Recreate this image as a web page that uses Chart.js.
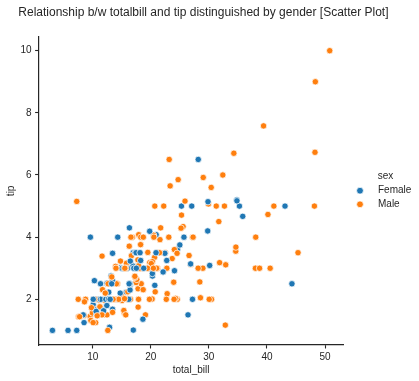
<!DOCTYPE html>
<html><head><meta charset="utf-8">
<script src="https://cdn.jsdelivr.net/npm/chart.js@4/dist/chart.umd.min.js"></script>
<style>html,body{margin:0;padding:0;background:#fff}#wrap{position:relative;width:419px;height:381px}</style>
</head><body><div id="wrap"><canvas id="c" width="419" height="381"></canvas></div>
<script>
const totalBill = [
16.99,10.34,21.01,23.68,24.59,25.29,8.77,26.88,15.04,14.78,
10.27,35.26,15.42,18.43,14.83,21.58,10.33,16.29,16.97,20.65,
17.92,20.29,15.77,39.42,19.82,17.81,13.37,12.69,21.7,19.65,
9.55,18.35,15.06,20.69,17.78,24.06,16.31,16.93,18.69,31.27,
16.04,17.46,13.94,9.68,30.4,18.29,22.23,32.4,28.55,18.04,
12.54,10.29,34.81,9.94,25.56,19.49,38.01,26.41,11.24,48.27,
20.29,13.81,11.02,18.29,17.59,20.08,16.45,3.07,20.23,15.01,
12.02,17.07,26.86,25.28,14.73,10.51,17.92,27.2,22.76,17.29,
19.44,16.66,10.07,32.68,15.98,34.83,13.03,18.28,24.71,21.16,
28.97,22.49,5.75,16.32,22.75,40.17,27.28,12.03,21.01,12.46,
11.35,15.38,44.3,22.42,20.92,15.36,20.49,25.21,18.24,14.31,
14.0,7.25,38.07,23.95,25.71,17.31,29.93,10.65,12.43,24.08,
11.69,13.42,14.26,15.95,12.48,29.8,8.52,14.52,11.38,22.82,
19.08,20.27,11.17,12.26,18.26,8.51,10.33,14.15,16.0,13.16,
17.47,34.3,41.19,27.05,16.43,8.35,18.64,11.87,9.78,7.51,
14.07,13.13,17.26,24.55,19.77,29.85,48.17,25.0,13.39,16.49,
21.5,12.66,16.21,13.81,17.51,24.52,20.76,31.71,10.59,10.63,
50.81,15.81,7.25,31.85,16.82,32.9,17.89,14.48,9.6,34.63,
34.65,23.33,45.35,23.17,40.55,20.69,20.9,30.46,18.15,23.1,
15.69,19.81,28.44,15.48,16.58,7.56,10.34,43.11,13.0,13.51,
18.71,12.74,13.0,16.4,20.53,16.47,26.59,38.73,24.27,12.76,
30.06,25.89,48.33,13.27,28.17,12.9,28.15,11.59,7.74,30.14,
12.16,13.42,8.58,15.98,13.42,16.27,10.09,20.45,13.28,22.12,
24.01,15.69,11.61,10.77,15.53,10.07,12.6,32.83,35.83,29.03,
27.18,22.67,17.82,18.78
];
const tip = [
1.01,1.66,3.5,3.31,3.61,4.71,2.0,3.12,1.96,3.23,
1.71,5.0,1.57,3.0,3.02,3.92,1.67,3.71,3.5,3.35,
4.08,2.75,2.23,7.58,3.18,2.34,2.0,2.0,4.3,3.0,
1.45,2.5,3.0,2.45,3.27,3.6,2.0,3.07,2.31,5.0,
2.24,2.54,3.06,1.32,5.6,3.0,5.0,6.0,2.05,3.0,
2.5,2.6,5.2,1.56,4.34,3.51,3.0,1.5,1.76,6.73,
3.21,2.0,1.98,3.76,2.64,3.15,2.47,1.0,2.01,2.09,
1.97,3.0,3.14,5.0,2.2,1.25,3.08,4.0,3.0,2.71,
3.0,3.4,1.83,5.0,2.03,5.17,2.0,4.0,5.85,3.0,
3.0,3.5,1.0,4.3,3.25,4.73,4.0,1.5,3.0,1.5,
2.5,3.0,2.5,3.48,4.08,1.64,4.06,4.29,3.76,4.0,
3.0,1.0,4.0,2.55,4.0,3.5,5.07,1.5,1.8,2.92,
2.31,1.68,2.5,2.0,2.52,4.2,1.48,2.0,2.0,2.18,
1.5,2.83,1.5,2.0,3.25,1.25,2.0,2.0,2.0,2.75,
3.5,6.7,5.0,5.0,2.3,1.5,1.36,1.63,1.73,2.0,
2.5,2.0,2.74,2.0,2.0,5.14,5.0,3.75,2.61,2.0,
3.5,2.5,2.0,2.0,3.0,3.48,2.24,4.5,1.61,2.0,
10.0,3.16,5.15,3.18,4.0,3.11,2.0,2.0,4.0,3.55,
3.68,5.65,3.5,6.5,3.0,5.0,3.5,2.0,3.5,4.0,
1.5,4.19,2.56,2.02,4.0,1.44,2.0,5.0,2.0,2.0,
4.0,2.01,2.0,2.5,4.0,3.23,3.41,3.0,2.03,2.23,
2.0,5.16,9.0,2.5,6.5,1.1,3.0,1.5,1.44,3.09,
2.2,3.48,1.92,3.0,1.58,2.5,2.0,3.0,2.72,2.88,
2.0,3.0,3.39,1.47,3.0,1.25,1.0,1.17,4.67,5.92,
2.0,2.0,1.75,3.0
];
const sex = [
'Female','Male','Male','Male','Female','Male','Male','Male','Male','Male',
'Male','Female','Male','Male','Female','Male','Female','Male','Female','Male',
'Male','Female','Female','Male','Male','Male','Male','Male','Male','Female',
'Male','Male','Female','Female','Male','Male','Male','Female','Male','Male',
'Male','Male','Male','Male','Male','Male','Male','Male','Male','Male',
'Male','Female','Female','Male','Male','Male','Male','Female','Male','Male',
'Male','Male','Male','Male','Male','Male','Female','Female','Male','Male',
'Male','Female','Female','Female','Female','Male','Male','Male','Male','Male',
'Male','Male','Female','Male','Male','Female','Male','Male','Male','Male',
'Male','Male','Female','Female','Female','Male','Male','Male','Male','Male',
'Female','Female','Female','Female','Female','Male','Male','Male','Male','Female',
'Male','Female','Male','Male','Female','Female','Male','Female','Female','Female',
'Male','Female','Male','Male','Female','Female','Male','Female','Female','Male',
'Male','Female','Female','Female','Female','Female','Female','Female','Male','Female',
'Female','Male','Male','Female','Female','Female','Female','Female','Male','Male',
'Male','Male','Male','Male','Male','Female','Male','Female','Female','Male',
'Male','Male','Female','Male','Female','Male','Male','Male','Female','Female',
'Male','Male','Male','Male','Male','Male','Male','Male','Female','Male',
'Male','Male','Male','Male','Male','Male','Female','Male','Female','Male',
'Male','Female','Male','Male','Male','Male','Male','Female','Female','Male',
'Male','Female','Female','Female','Male','Female','Male','Male','Male','Female',
'Male','Male','Male','Female','Female','Female','Male','Male','Male','Female',
'Male','Female','Male','Female','Male','Female','Female','Male','Male','Female',
'Male','Male','Male','Male','Male','Male','Male','Male','Female','Male',
'Female','Male','Male','Female'
];
const hueOrder = ['Female', 'Male'];
const hueColors = ['#1f77b4', '#ff7f0e'];
const xTicks = [10, 20, 30, 40, 50];
const yTicks = [2, 4, 6, 8, 10];
const titleText = 'Relationship b/w totalbill and tip distinguished by gender [Scatter Plot]';

const INK = '#262626';
const FONT = '"Liberation Sans", Arial, sans-serif';
Chart.defaults.font.family = FONT;
Chart.defaults.color = INK;

const points = totalBill.map((b, i) => ({x: b, y: tip[i]}));
const colors = sex.map(s => hueColors[hueOrder.indexOf(s)]);

const overlay = {
  id: 'overlay',
  afterDraw(chart) {
    const ctx = chart.ctx;
    ctx.save();
    ctx.fillStyle = INK;
    ctx.font = '12px ' + FONT;
    ctx.textAlign = 'left';
    ctx.textBaseline = 'alphabetic';
    ctx.fillText(titleText, 18.3, 15.5);
    ctx.font = '10px ' + FONT;
    ctx.textBaseline = 'middle';
    ctx.fillText('sex', 377.7, 176);
    hueOrder.forEach((h, i) => {
      const y = 190.7 + i * 13.6;
      ctx.beginPath();
      ctx.arc(360, y, 3.4, 0, Math.PI * 2);
      ctx.fillStyle = hueColors[i];
      ctx.fill();
      ctx.lineWidth = 0.75;
      ctx.strokeStyle = '#ffffff';
      ctx.stroke();
      ctx.fillStyle = INK;
      ctx.fillText(h, 378, y);
    });
    ctx.restore();
  }
};

new Chart(document.getElementById('c'), {
  type: 'scatter',
  data: {
    datasets: [{
      label: 'tip',
      data: points,
      backgroundColor: colors,
      borderColor: '#ffffff',
      borderWidth: 0.75,
      pointRadius: 3.2,
      pointHoverRadius: 3.2
    }]
  },
  options: {
    responsive: false,
    animation: false,
    devicePixelRatio: 1,
    layout: {padding: {top: 36.7, right: 75.4, left: 0, bottom: 0}},
    plugins: {legend: {display: false}, tooltip: {enabled: false}, title: {display: false}},
    scales: {
      x: {
        type: 'linear', position: 'bottom',
        min: 0.683, max: 53.197,
        afterBuildTicks: s => { s.ticks = xTicks.map(v => ({value: v})); },
        afterFit: s => { s.height = 36; },
        ticks: {color: INK, font: {size: 10}, padding: 2.5, maxRotation: 0, autoSkip: false},
        grid: {drawOnChartArea: false, drawTicks: true, tickLength: 3.5, tickWidth: 1.1, tickColor: INK},
        border: {display: true, color: INK, width: 1.2},
        title: {display: true, text: 'total_bill', color: INK, font: {size: 10}, padding: {top: 0, bottom: 5}}
      },
      y: {
        type: 'linear', position: 'left',
        min: 0.53, max: 10.45,
        afterBuildTicks: s => { s.ticks = yTicks.map(v => ({value: v})); },
        afterFit: s => { s.width = 38.6; },
        ticks: {color: INK, font: {size: 10}, padding: 3.5, autoSkip: false},
        grid: {drawOnChartArea: false, drawTicks: true, tickLength: 3.5, tickWidth: 1.1, tickColor: INK},
        border: {display: true, color: INK, width: 1.2},
        title: {display: true, text: 'tip', color: INK, font: {size: 10}, padding: {top: 5, bottom: 0}}
      }
    }
  },
  plugins: [overlay]
});
</script>
</body></html>
